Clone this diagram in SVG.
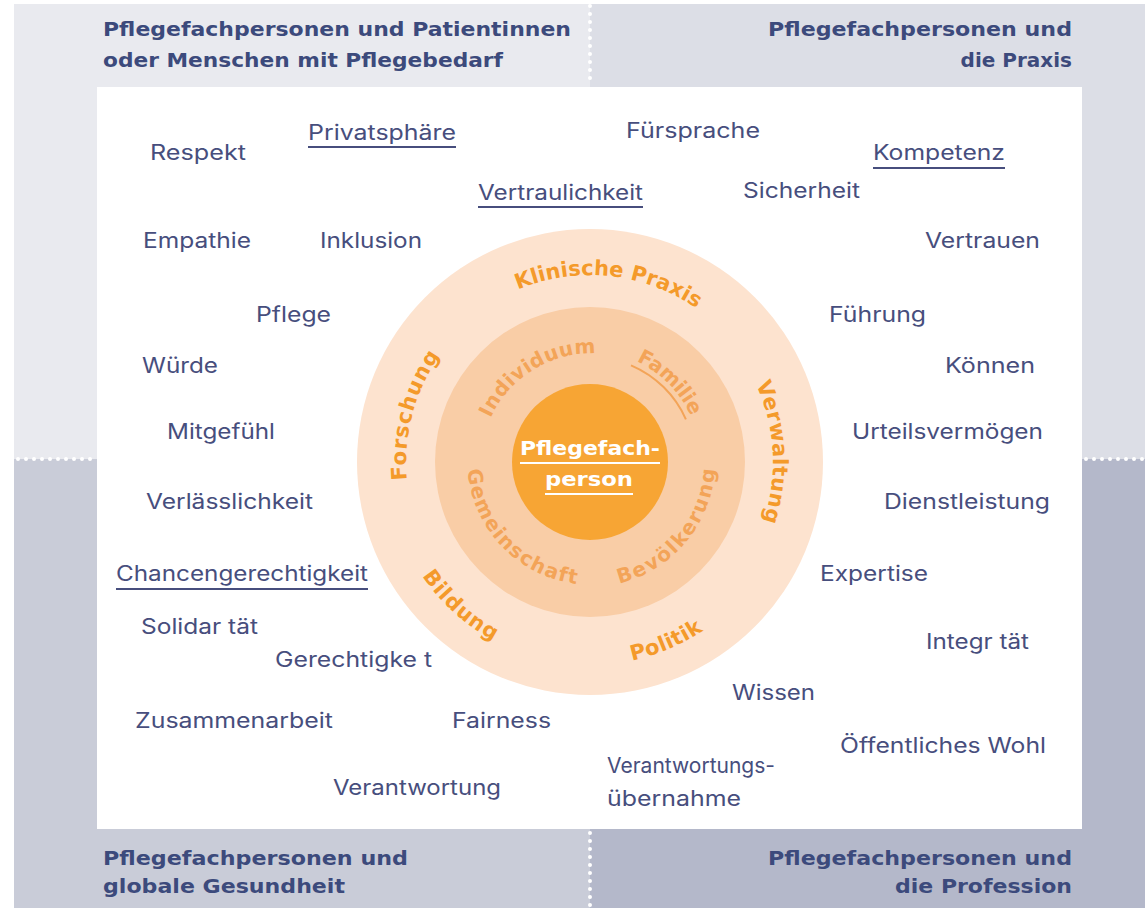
<svg xmlns="http://www.w3.org/2000/svg" width="1145" height="908" viewBox="0 0 1145 908">
<style>
.title{font-family:"DejaVu Sans","Liberation Sans",sans-serif;font-weight:bold;font-size:20px;fill:#3c4a7c}
.w{font-family:Inter,"Liberation Sans",sans-serif;font-size:21px;fill:#474e7d}
.ul{stroke:#474e7d;stroke-width:2}
.ring{font-family:"DejaVu Sans","Liberation Sans",sans-serif;font-weight:bold;font-size:21px;fill:#f49a2a}
.ring2{font-family:"DejaVu Sans","Liberation Sans",sans-serif;font-weight:bold;font-size:20px;fill:#f3a458}
.dots{stroke:#ffffff;stroke-width:4;stroke-linecap:round;stroke-dasharray:0 8;fill:none}
.core{font-family:"DejaVu Sans","Liberation Sans",sans-serif;font-weight:bold;font-size:20px;fill:#ffffff}
</style>
<defs>
<path id="pKP" d="M404,442.5 A187,187 0 0 1 776,481.5"/>
<path id="pVW" d="M580.2,275.3 A187,187 0 0 1 599.8,648.7"/>
<path id="pFO" d="M541.6,642.6 A187,187 0 0 1 638.4,281.4"/>
<path id="pBI" d="M439.1,326.2 A203,203 0 0 0 740.9,597.8"/>
<path id="pPO" d="M403.1,541.3 A203,203 0 0 0 776.9,382.7"/>
<path id="pIN" d="M495.4,520 A111,111 0 0 1 684.6,404"/>
<path id="pFA" d="M511.5,383.5 A111,111 0 0 1 668.5,540.5"/>
<path id="pGE" d="M503.2,372.1 A125,125 0 0 0 676.8,551.9"/>
<path id="pBE" d="M510.5,558.5 A125,125 0 0 0 669.5,365.5"/>
</defs>

<g id="background">
<rect x="14" y="4" width="576" height="455" fill="#e9eaef"/>
<rect x="590" y="4" width="555" height="455" fill="#dcdee6"/>
<rect x="14" y="459" width="576" height="449" fill="#c9ccd8"/>
<rect x="590" y="459" width="555" height="449" fill="#b4b8ca"/>
<line class="dots" x1="590" y1="6" x2="590" y2="86"/>
<line class="dots" x1="590" y1="833" x2="590" y2="906"/>
<line class="dots" x1="18" y1="459" x2="96" y2="459"/>
<line class="dots" x1="1086" y1="459" x2="1145" y2="459"/>
<rect x="97" y="87" width="985" height="742" fill="#ffffff"/>
</g>

<g id="q-patients">
<text class="title" x="103" y="36" textLength="468" lengthAdjust="spacingAndGlyphs">Pflegefachpersonen und Patientinnen</text>
<text class="title" x="103" y="67" textLength="400" lengthAdjust="spacingAndGlyphs">oder Menschen mit Pflegebedarf</text>
</g>
<g id="q-praxis">
<text class="title" x="768" y="36" textLength="304" lengthAdjust="spacingAndGlyphs">Pflegefachpersonen und</text>
<text class="title" x="1072" y="67" text-anchor="end">die Praxis</text>
</g>
<g id="q-global">
<text class="title" x="103" y="865" textLength="305" lengthAdjust="spacingAndGlyphs">Pflegefachpersonen und</text>
<text class="title" x="103" y="893" textLength="242" lengthAdjust="spacingAndGlyphs">globale Gesundheit</text>
</g>
<g id="q-profession">
<text class="title" x="768" y="865" textLength="304" lengthAdjust="spacingAndGlyphs">Pflegefachpersonen und</text>
<text class="title" x="895" y="893" textLength="177" lengthAdjust="spacingAndGlyphs">die Profession</text>
</g>

<g id="circle-outer">
<circle cx="590" cy="462" r="233" fill="#fde3cf"/>
<text class="ring" text-anchor="middle" letter-spacing="0"><textPath href="#pKP" startOffset="50%">Klinische Praxis</textPath></text>
<text class="ring" text-anchor="middle" letter-spacing="0.6"><textPath href="#pVW" startOffset="50%">Verwaltung</textPath></text>
<text class="ring" text-anchor="middle" letter-spacing="1"><textPath href="#pFO" startOffset="50%">Forschung</textPath></text>
<text class="ring" text-anchor="middle" letter-spacing="1.1"><textPath href="#pBI" startOffset="50%">Bildung</textPath></text>
<text class="ring" text-anchor="middle" letter-spacing="0.4"><textPath href="#pPO" startOffset="50%">Politik</textPath></text>
</g>
<g id="circle-middle">
<circle cx="590" cy="462" r="155" fill="#f9cda6"/>
<text class="ring2" text-anchor="middle" letter-spacing="0.5"><textPath href="#pIN" startOffset="50%">Individuum</textPath></text>
<text class="ring2" text-anchor="middle" letter-spacing="-0.3"><textPath href="#pFA" startOffset="50%">Familie</textPath></text>
<path d="M631,365.3 A105,105 0 0 1 685.9,419.3" fill="none" stroke="#f3a458" stroke-width="2"/>
<text class="ring2" text-anchor="middle" letter-spacing="1.4"><textPath href="#pGE" startOffset="50%">Gemeinschaft</textPath></text>
<text class="ring2" text-anchor="middle" letter-spacing="1.8"><textPath href="#pBE" startOffset="50%">Bevölkerung</textPath></text>
</g>
<g id="circle-core">
<circle cx="590" cy="462" r="78" fill="#f7a534"/>
<text class="core" x="520" y="455" textLength="140" lengthAdjust="spacingAndGlyphs">Pflegefach-</text>
<line x1="520" y1="463" x2="660" y2="463" stroke="#ffffff" stroke-width="2"/>
<text class="core" x="545" y="486" textLength="88" lengthAdjust="spacingAndGlyphs">person</text>
<line x1="545" y1="494" x2="633" y2="494" stroke="#ffffff" stroke-width="2"/>
</g>

<g id="values">
<g id="v-respekt"><text class="w" x="150" y="160" textLength="96" lengthAdjust="spacingAndGlyphs">Respekt</text></g>
<g id="v-privatsphaere"><text class="w" x="308" y="140" textLength="148" lengthAdjust="spacingAndGlyphs">Privatsphäre</text><line class="ul" x1="308" y1="147" x2="456" y2="147"/></g>
<g id="v-vertraulichkeit"><text class="w" x="478" y="200" textLength="165" lengthAdjust="spacingAndGlyphs">Vertraulichkeit</text><line class="ul" x1="478" y1="207" x2="643" y2="207"/></g>
<g id="v-fuersprache"><text class="w" x="626" y="138" textLength="134" lengthAdjust="spacingAndGlyphs">Fürsprache</text></g>
<g id="v-kompetenz"><text class="w" x="873" y="160" textLength="132" lengthAdjust="spacingAndGlyphs">Kompetenz</text><line class="ul" x1="873" y1="168" x2="1005" y2="168"/></g>
<g id="v-sicherheit"><text class="w" x="743" y="198" textLength="117" lengthAdjust="spacingAndGlyphs">Sicherheit</text></g>
<g id="v-empathie"><text class="w" x="143" y="248" textLength="108" lengthAdjust="spacingAndGlyphs">Empathie</text></g>
<g id="v-inklusion"><text class="w" x="320" y="248" textLength="102" lengthAdjust="spacingAndGlyphs">Inklusion</text></g>
<g id="v-vertrauen"><text class="w" x="925" y="248" textLength="115" lengthAdjust="spacingAndGlyphs">Vertrauen</text></g>
<g id="v-pflege"><text class="w" x="256" y="322" textLength="75" lengthAdjust="spacingAndGlyphs">Pflege</text></g>
<g id="v-fuehrung"><text class="w" x="829" y="322" textLength="97" lengthAdjust="spacingAndGlyphs">Führung</text></g>
<g id="v-wuerde"><text class="w" x="142" y="373" textLength="76" lengthAdjust="spacingAndGlyphs">Würde</text></g>
<g id="v-koennen"><text class="w" x="945" y="373" textLength="90" lengthAdjust="spacingAndGlyphs">Können</text></g>
<g id="v-mitgefuehl"><text class="w" x="167" y="439" textLength="108" lengthAdjust="spacingAndGlyphs">Mitgefühl</text></g>
<g id="v-urteilsvermoegen"><text class="w" x="852" y="439" textLength="191" lengthAdjust="spacingAndGlyphs">Urteilsvermögen</text></g>
<g id="v-verlaesslichkeit"><text class="w" x="146" y="509" textLength="167" lengthAdjust="spacingAndGlyphs">Verlässlichkeit</text></g>
<g id="v-dienstleistung"><text class="w" x="884" y="509" textLength="166" lengthAdjust="spacingAndGlyphs">Dienstleistung</text></g>
<g id="v-chancengerechtigkeit"><text class="w" x="116" y="581" textLength="252" lengthAdjust="spacingAndGlyphs">Chancengerechtigkeit</text><line class="ul" x1="116" y1="589" x2="368" y2="589"/></g>
<g id="v-expertise"><text class="w" x="820" y="581" textLength="108" lengthAdjust="spacingAndGlyphs">Expertise</text></g>
<g id="v-solidaritaet"><text class="w" x="141" y="634" textLength="117" lengthAdjust="spacingAndGlyphs">Solidar tät</text></g>
<g id="v-integritaet"><text class="w" x="926" y="649" textLength="103" lengthAdjust="spacingAndGlyphs">Integr tät</text></g>
<g id="v-gerechtigkeit"><text class="w" x="275" y="667" textLength="157" lengthAdjust="spacingAndGlyphs">Gerechtigke t</text></g>
<g id="v-wissen"><text class="w" x="732" y="700" textLength="83" lengthAdjust="spacingAndGlyphs">Wissen</text></g>
<g id="v-zusammenarbeit"><text class="w" x="135" y="728" textLength="198" lengthAdjust="spacingAndGlyphs">Zusammenarbeit</text></g>
<g id="v-fairness"><text class="w" x="452" y="728" textLength="99" lengthAdjust="spacingAndGlyphs">Fairness</text></g>
<g id="v-oeffentliches-wohl"><text class="w" x="840" y="753" textLength="206" lengthAdjust="spacingAndGlyphs">Öffentliches Wohl</text></g>
<g id="v-verantwortung"><text class="w" x="333" y="795" textLength="168" lengthAdjust="spacingAndGlyphs">Verantwortung</text></g>
<g id="v-verantwortungsuebernahme"><text class="w" x="607" y="773" textLength="168" lengthAdjust="spacingAndGlyphs">Verantwortungs-</text><text class="w" x="607" y="806" textLength="134" lengthAdjust="spacingAndGlyphs">übernahme</text></g>
</g>
</svg>
